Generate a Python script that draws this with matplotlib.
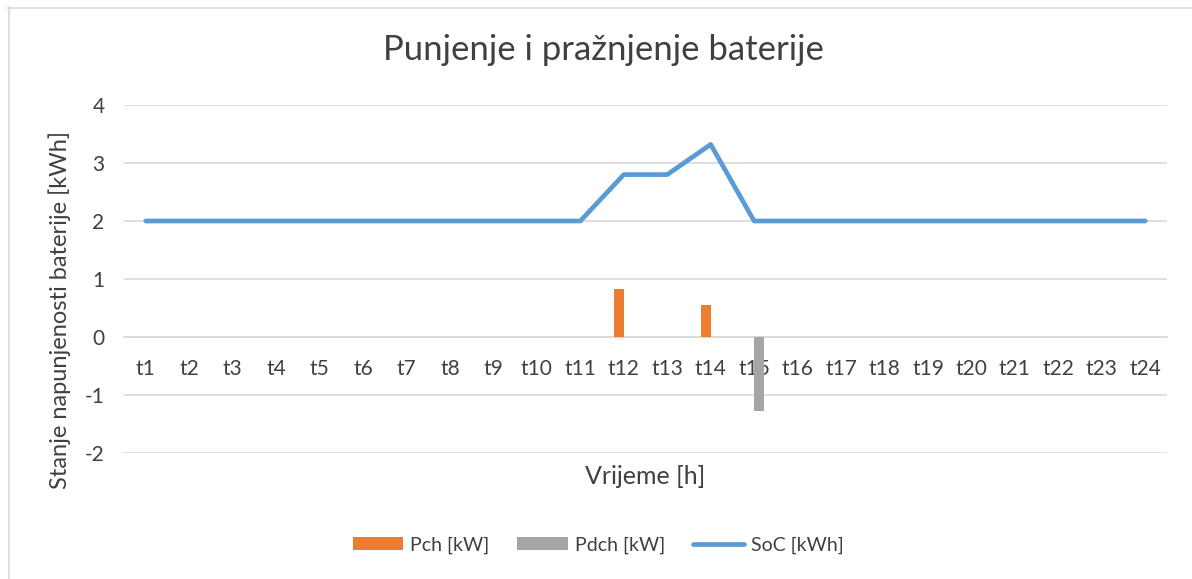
import numpy as np
import matplotlib.pyplot as plt
from matplotlib.lines import Line2D

plt.rcParams['font.family'] = ['Lato', 'DejaVu Sans']
plt.rcParams['axes.unicode_minus'] = False

# Data
hours = ['t%d' % i for i in range(1, 25)]
pch = [0, 0, 0, 0, 0, 0, 0, 0, 0, 0, 0, 0.83, 0, 0.55, 0, 0, 0, 0, 0, 0, 0, 0, 0, 0]
pdch = [0, 0, 0, 0, 0, 0, 0, 0, 0, 0, 0, 0, 0, 0, -1.27, 0, 0, 0, 0, 0, 0, 0, 0, 0]
soc = [2, 2, 2, 2, 2, 2, 2, 2, 2, 2, 2, 2.8, 2.8, 3.32, 2, 2, 2, 2, 2, 2, 2, 2, 2, 2]

W, H = 1192, 579
fig = plt.figure(figsize=(W / 100, H / 100), dpi=100)
ax = fig.add_axes([124 / W, (H - 453) / H, (1167 - 124) / W, (453 - 105) / H])

x = np.arange(len(hours))
bw = 0.23
b1 = ax.bar(x - bw / 2, pch, bw, color='#ED7D31', label='Pch [kW]', zorder=3)
b2 = ax.bar(x + bw / 2, pdch, bw, color='#A5A5A5', label='Pdch [kW]', zorder=3)
l1, = ax.plot(x, soc, color='#5B9BD5', lw=3.4, solid_capstyle='round', label='SoC [kWh]', zorder=4)

ax.set_xlim(-0.5, len(hours) - 0.5)
ax.set_ylim(-2, 4)
ax.set_yticks(range(-2, 5))
ax.set_xticks(x)
ax.set_xticklabels(hours)
ax.grid(axis='y', color='#D9D9D9', lw=1.2, zorder=0)
for s in ['top', 'right', 'left']:
    ax.spines[s].set_visible(False)
ax.spines['bottom'].set_position(('data', 0))
ax.spines['bottom'].set_color('#D9D9D9')
ax.spines['bottom'].set_linewidth(1.2)
ax.tick_params(axis='both', length=0, labelsize=15, colors='#404040')
ax.tick_params(axis='x', pad=16)
ax.tick_params(axis='y', pad=14)

fig.text(603 / W, 1 - 50 / H, 'Punjenje i pražnjenje baterije', ha='center', va='center',
         fontsize=25, color='#404040')
fig.text(645 / W, 1 - 477 / H, 'Vrijeme [h]', ha='center', va='center', fontsize=18, color='#404040')
fig.text(60 / W, 1 - 310 / H, 'Stanje napunjenosti baterije [kWh]', rotation=90,
         ha='center', va='center', fontsize=17, color='#404040')

ax.legend([b1, b2, l1], ['Pch [kW]', 'Pdch [kW]', 'SoC [kWh]'],
          loc='center', bbox_to_anchor=(598 / W, 1 - 545 / H), bbox_transform=fig.transFigure,
          ncol=3, frameon=False, fontsize=14, labelcolor='#404040',
          handlelength=2.6, handleheight=0.65, columnspacing=1.45, handletextpad=0.35)

# chart frame
fig.add_artist(Line2D([8.5 / W, 8.5 / W], [0, 1 - 7 / H], color='#D9D9D9', lw=1.2))
fig.add_artist(Line2D([8 / W, 1], [1 - 7.5 / H, 1 - 7.5 / H], color='#D9D9D9', lw=1.2))

fig.savefig('out.png', dpi=100)
